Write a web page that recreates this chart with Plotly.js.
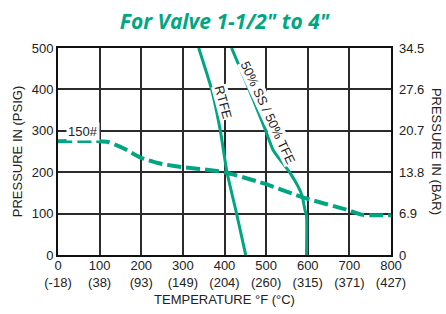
<!DOCTYPE html>
<html>
<head>
<meta charset="utf-8">
<script src="https://cdn.plot.ly/plotly-3.0.1.min.js"></script>
<style>html,body{margin:0;padding:0;background:#fff;}#chart{width:446px;height:314px;}</style>
</head>
<body>
<div id="chart"></div>
<script>
// ---- data ----
const classTemp = [0, 100, 120, 157, 197, 245, 300, 341, 400, 484, 500, 595, 695, 732, 760, 800];
const classPsi  = [275, 275, 273, 258, 236, 221, 212, 208, 200, 176, 171, 137, 109, 97, 96, 96];

const rtfeTemp = [338, 369, 390, 406, 429, 451];
const rtfePsi  = [500, 400, 300, 200, 100, 0];

const ssTemp = [417, 459, 499, 517, 557, 577, 587, 593, 597, 597];
const ssPsi  = [500, 400, 300, 253, 199, 165, 141, 110, 95, 0];

const xTickVals = [0, 100, 200, 300, 400, 500, 600, 700, 800];
const xTickC    = ["(-18)", "(38)", "(93)", "(149)", "(204)", "(260)", "(315)", "(371)", "(427)"];
const yTickVals = [0, 100, 200, 300, 400, 500];
const barTickVals = [0, 6.9, 13.8, 20.7, 27.6, 34.5];
const barTickText = ["0", "6.9", "13.8", "20.7", "27.6", "34.5"];

const teal = "#00a682";
const gridC = "#2b2b2b";
const fontFam = "Liberation Sans, Arial, sans-serif";

const traces = [
  {x: classTemp, y: classPsi, mode: "lines", line: {color: teal, width: 4, dash: "14px,5px", shape: "spline", smoothing: 0.6}, hoverinfo: "skip"},
  {x: rtfeTemp, y: rtfePsi, mode: "lines", line: {color: teal, width: 3, shape: "spline", smoothing: 0.5}, hoverinfo: "skip"},
  {x: ssTemp, y: ssPsi, mode: "lines", line: {color: teal, width: 3, shape: "spline", smoothing: 0.5}, hoverinfo: "skip"},
  {x: [0, 800], y: [0, 0], yaxis: "y2", mode: "lines", line: {width: 0}, showlegend: false, hoverinfo: "skip"}
];

const layout = {
  width: 446, height: 314,
  margin: {l: 58, r: 55, t: 48, b: 59},
  paper_bgcolor: "#fff", plot_bgcolor: "#fff",
  showlegend: false,
  font: {family: fontFam, size: 13, color: "#222"},
  title: {text: "<b><i>For Valve 1-1/2\" to 4\"</i></b>", font: {family: "Open Sans, sans-serif", size: 21, color: teal}, x: 0.5, xanchor: "center", xref: "paper", yref: "container", y: 0.93, yanchor: "middle"},
  xaxis: {
    range: [0, 800], tickvals: xTickVals,
    ticktext: xTickVals.map((v, i) => v + "<br>" + xTickC[i]),
    showgrid: true, gridcolor: gridC, gridwidth: 2,
    showline: true, linecolor: "#111", linewidth: 2, mirror: true,
    zeroline: false, ticks: "", tickfont: {size: 13}, ticklabelstandoff: -3,
    title: {text: "TEMPERATURE °F (°C)", font: {size: 13}, standoff: 6}
  },
  yaxis: {
    range: [0, 500], tickvals: yTickVals,
    showgrid: true, gridcolor: gridC, gridwidth: 2,
    showline: true, linecolor: "#111", linewidth: 2, mirror: true,
    zeroline: false, ticks: "", tickfont: {size: 13},
    title: {text: "PRESSURE IN (PSIG)", font: {size: 13}, standoff: 6}
  },
  yaxis2: {
    range: [0, 34.5], tickvals: barTickVals, ticktext: barTickText,
    overlaying: "y", side: "right", showgrid: false, zeroline: false,
    showline: false, ticks: "", tickfont: {size: 13}, ticklabelstandoff: 7
  },
  annotations: [
    {text: "PRESSURE IN (BAR)", xref: "paper", yref: "paper", x: 1.137, y: 0.5, textangle: 90, showarrow: false, font: {size: 13}, xanchor: "center", yanchor: "middle"},
    {text: "150#", xref: "x", yref: "y", x: 59, y: 298, showarrow: false, bgcolor: "#fff", borderpad: 1, font: {size: 13}},
    {text: "RTFE", xref: "x", yref: "y", x: 397, y: 368, textangle: 75, showarrow: false, bgcolor: "#fff", borderpad: 0, font: {size: 13}},
    {text: "50% SS / 50% TFE", xref: "x", yref: "y", x: 504, y: 344, textangle: 65, showarrow: false, bgcolor: "#fff", borderpad: 0, font: {size: 13}}
  ]
};

Plotly.newPlot("chart", traces, layout, {staticPlot: true, displayModeBar: false});
</script>
</body>
</html>
